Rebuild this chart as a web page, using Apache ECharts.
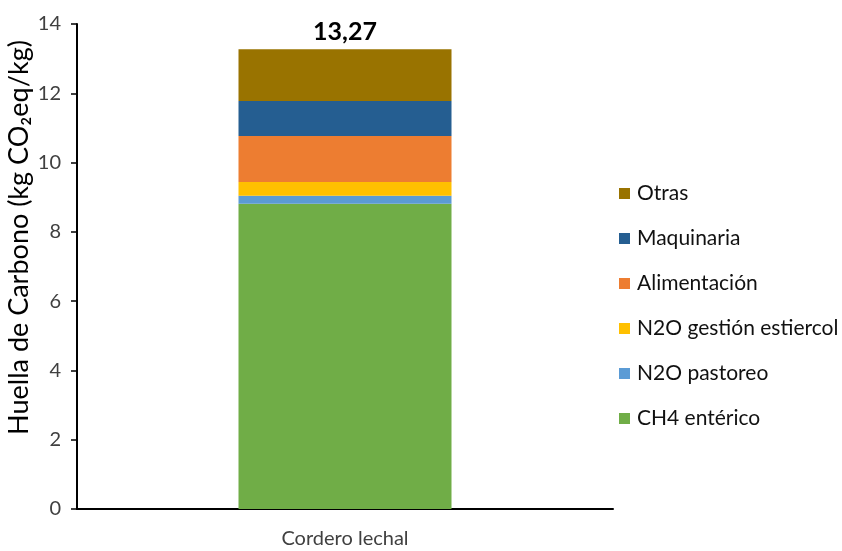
<!DOCTYPE html>
<html>
<head>
<meta charset="utf-8">
<script src="https://cdn.jsdelivr.net/npm/echarts@6/dist/echarts.min.js"></script>
<style>
  html, body { margin: 0; padding: 0; background: #fff; }
  #chart { width: 842px; height: 551px; }
</style>
</head>
<body>
<div id="chart"></div>
<script>
// categories and stacked components (kg CO2eq/kg)
var categories = ['Cordero lechal'];
var ch4Enterico = [8.81];
var n2oPastoreo = [0.23];
var n2oGestion = [0.40];
var alimentacion = [1.33];
var maquinaria = [1.01];
var otras = [1.49];

var seriesNames = ['CH4 entérico', 'N2O pastoreo', 'N2O gestión estiercol', 'Alimentación', 'Maquinaria', 'Otras'];
var seriesData = [ch4Enterico, n2oPastoreo, n2oGestion, alimentacion, maquinaria, otras];
var colors = ['#70AD47', '#5B9BD5', '#FFC000', '#ED7D31', '#255E91', '#997300'];

var font = 'Lato, "Open Sans", sans-serif';

var chart = echarts.init(document.getElementById('chart'));

var series = seriesNames.map(function (name, i) {
  var s = {
    name: name,
    type: 'bar',
    stack: 'total',
    barWidth: 213,
    data: seriesData[i],
    itemStyle: { color: colors[i] }
  };
  // total label on top of the stack
  if (i === seriesNames.length - 1) {
    s.label = {
      show: true,
      position: 'top',
      distance: 5,
      fontFamily: font,
      fontSize: 25,
      fontWeight: 'bold',
      color: '#000',
      formatter: function (p) {
        var total = 0;
        seriesData.forEach(function (arr) { total += arr[p.dataIndex]; });
        return total.toFixed(2).replace('.', ',');
      }
    };
  }
  return s;
});

var option = {
  animation: false,
  grid: { left: 77, right: 229, top: 24, bottom: 42, outerBoundsMode: 'none' },
  legend: {
    orient: 'vertical',
    left: 614,
    top: 178,
    itemWidth: 11,
    itemHeight: 11,
    itemGap: 24,
    icon: 'rect',
    data: seriesNames.slice().reverse(),
    textStyle: { fontFamily: font, fontSize: 21, color: '#111', padding: [0, 0, 0, 2] }
  },
  xAxis: {
    type: 'category',
    data: categories,
    axisLine: { lineStyle: { color: '#000', width: 2 } },
    axisTick: { show: false },
    axisLabel: { fontFamily: font, fontSize: 20, color: '#404040', margin: 20 }
  },
  yAxis: {
    type: 'value',
    min: 0,
    max: 14,
    interval: 2,
    name: 'Huella de Carbono (kg CO₂eq/kg)',
    nameLocation: 'middle',
    nameGap: 44,
    nameMoveOverlap: false,
    nameTextStyle: { fontFamily: font, fontSize: 27, color: '#000', padding: [0, 0, 0, 58] },
    axisLine: { show: true, lineStyle: { color: '#000', width: 2 } },
    axisTick: { show: true, length: 6, lineStyle: { color: '#000', width: 1.5 } },
    splitLine: { show: false },
    axisLabel: { fontFamily: font, fontSize: 20, color: '#404040', margin: 16 }
  },
  series: series
};

chart.setOption(option);
</script>
</body>
</html>
